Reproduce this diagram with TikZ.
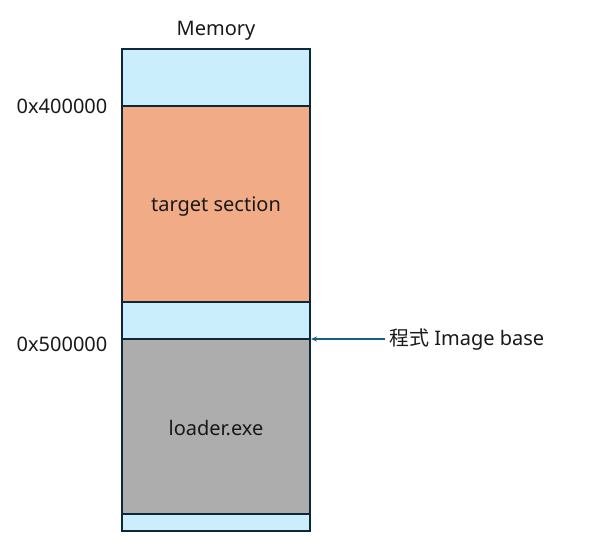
\documentclass[tikz,border=0pt]{standalone}
\usepackage{fontspec}
\setmainfont{Noto Sans}
\newfontfamily\cjkfont{Noto Sans CJK TC}
\usetikzlibrary{arrows.meta}
\definecolor{memblue}{RGB}{202,238,252}
\definecolor{memorange}{RGB}{241,171,134}
\definecolor{memgray}{RGB}{173,173,173}
\definecolor{memline}{RGB}{14,40,56}
\definecolor{ptrblue}{RGB}{21,96,130}
\tikzset{
  lbl/.style={font=\fontsize{20}{24}\selectfont, text=black!90, inner sep=0pt, anchor=base},
  blk/.style={draw=memline, line width=2.5pt}
}
\begin{document}
\begin{tikzpicture}[x=1pt, y=-1pt]
    \useasboundingbox (0,0) rectangle (614,544);
    %Memory blocks
    \filldraw[blk, fill=memblue] (122,49) rectangle (310,106);
    \filldraw[blk, fill=memorange] (122,106) rectangle (310,302);
    \filldraw[blk, fill=memblue] (122,302) rectangle (310,339);
    \filldraw[blk, fill=memgray] (122,339) rectangle (310,514);
    \filldraw[blk, fill=memblue] (122,514) rectangle (310,531);
    %Labels
    \node[lbl] (title) at (216,35) {Memory};
    \node[lbl] (target) at (216,211) {target section};
    \node[lbl] (loader) at (216,435) {loader.exe};
    \node[lbl] (addrA) at (62,113) {0x400000};
    \node[lbl] (addrB) at (62,351.5) {0x500000};
    %Image base
    \coordinate (base) at (311,339);
    \coordinate (ptr) at (385,339);
    \draw[ptrblue, line width=1.3pt, -{Stealth[length=6pt,width=5pt]}] (ptr) -- (base);
    \node[lbl, anchor=base west] (imgbase) at (389,345) {{\cjkfont 程式} Image base};
\end{tikzpicture}
\end{document}
